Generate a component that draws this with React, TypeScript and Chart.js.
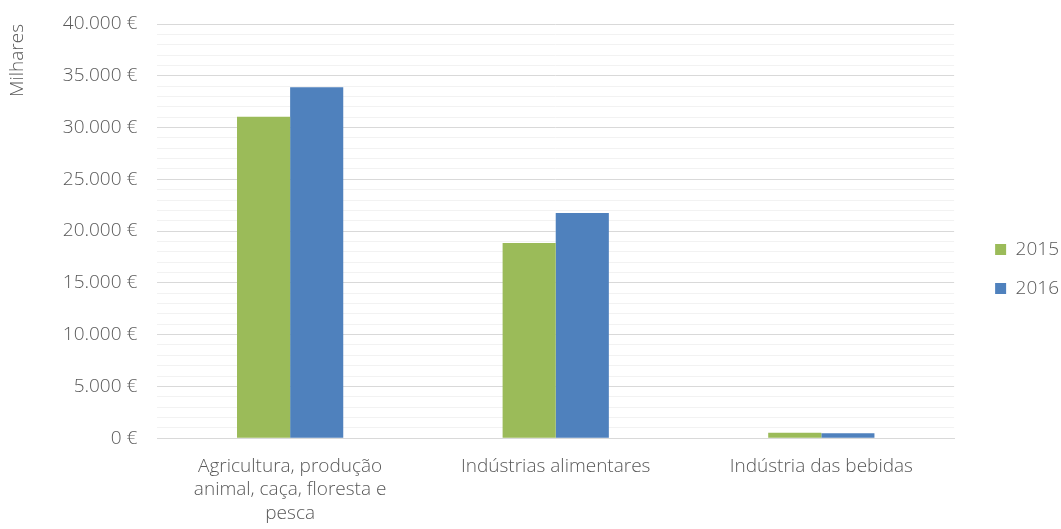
import React, { useEffect, useRef } from "react";
import { Chart, registerables } from "chart.js";

Chart.register(...registerables);

const categories: string[][] = [
  ["Agricultura, produção", "animal, caça, floresta e", "pesca"],
  ["Indústrias alimentares"],
  ["Indústria das bebidas"],
];
const seriesNames = ["2015", "2016"];
const values2015 = [31050, 18850, 530];
const values2016 = [33900, 21750, 470];
const colors = ["#9bbb59", "#4f81bd"];
const yMax = 40000;
const yStep = 1000;
const yMajorStep = 5000;
const yTitle = "Milhares";

const fmt = (v: number) =>
  String(Math.round(v)).replace(/\B(?=(\d{3})+(?!\d))/g, ".") + " €";

export default function App() {
  const ref = useRef<HTMLCanvasElement | null>(null);
  useEffect(() => {
    if (!ref.current) return;
    const font = { family: "'Open Sans', 'Liberation Sans', sans-serif", size: 19, weight: "300" as any };
    const chart = new Chart(ref.current, {
      type: "bar",
      data: {
        labels: categories,
        datasets: [
          { label: seriesNames[0], data: values2015, backgroundColor: colors[0] },
          { label: seriesNames[1], data: values2016, backgroundColor: colors[1] },
        ],
      },
      options: {
        animation: false,
        responsive: false,
        maintainAspectRatio: false,
        layout: { padding: { top: 4, left: 6, right: -8, bottom: -5 } },
        datasets: { bar: { categoryPercentage: 0.4, barPercentage: 1 } },
        plugins: {
          legend: {
            position: "right",
            labels: {
              boxWidth: 11,
              boxHeight: 11,
              color: "#595959",
              font,
              padding: 20,
            },
          },
          tooltip: { enabled: false },
        },
        scales: {
          x: {
            grid: { display: false },
            border: { color: "#d9d9d9", width: 1 },
            ticks: { color: "#595959", font: { ...font, lineHeight: 1.26 }, maxRotation: 0, padding: 8 },
          },
          y: {
            min: 0,
            max: yMax,
            border: { display: false },
            grid: {
              drawTicks: false,
              color: (ctx: any) =>
                ctx.tick && ctx.tick.value % yMajorStep === 0 ? "#d9d9d9" : "#f2f2f2",
            },
            ticks: {
              stepSize: yStep,
              autoSkip: false,
              color: "#595959",
              font,
              padding: 20,
              callback: (v: any) => (Number(v) % yMajorStep === 0 ? fmt(Number(v)) : ""),
            },
            title: {
              display: true,
              text: yTitle,
              align: "end",
              color: "#595959",
              font,
              padding: { top: 0, bottom: 14 },
            },
            afterFit: (s: any) => {
              s.paddingTop = 24;
              s.paddingBottom = 0;
            },
          },
          gap: {
            type: "linear",
            position: "right",
            display: true,
            grid: { display: false, drawTicks: false },
            border: { display: false },
            ticks: { display: false },
            afterFit: (s: any) => {
              s.width = 21;
            },
          },
        },
      },
    });
    return () => chart.destroy();
  }, []);
  return (
    <div style={{ position: "fixed", left: 0, top: 0, width: 1061, height: 529, background: "#fff" }}>
      <canvas ref={ref} width={1061} height={529} style={{ width: 1061, height: 529 }} />
    </div>
  );
}
